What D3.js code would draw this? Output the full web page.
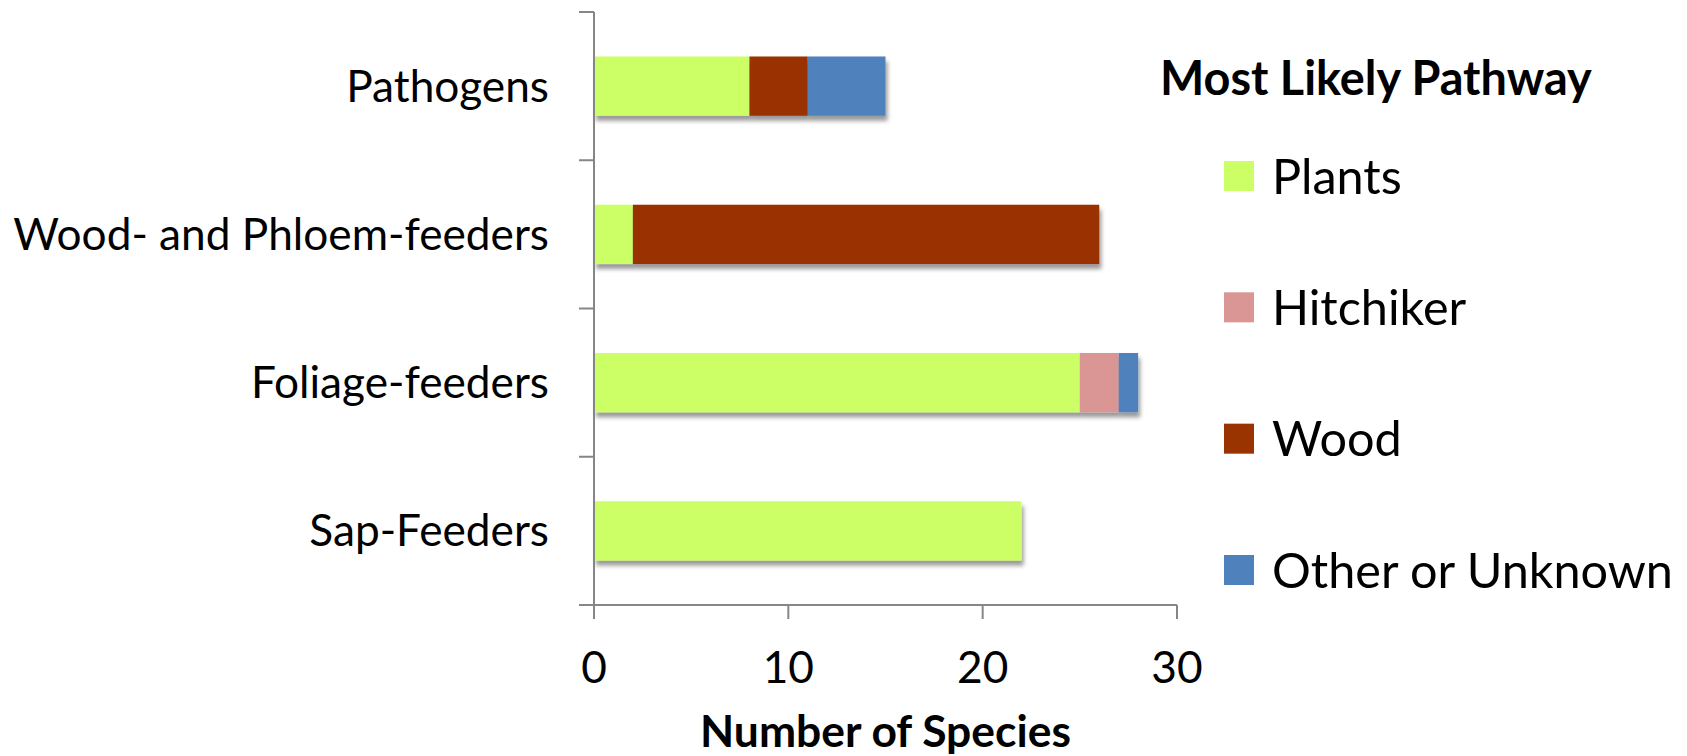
<!DOCTYPE html>
<html>
<head>
<meta charset="utf-8">
<script src="https://cdn.jsdelivr.net/npm/d3@7"></script>
<style>
  html, body { margin: 0; padding: 0; background: #fff; }
  svg { display: block; font-family: Lato, "Open Sans", sans-serif; }
</style>
</head>
<body>
<svg id="chart" width="1687" height="756"></svg>
<script>
// Species groups (top to bottom) and pathway breakdown
const categories = ["Pathogens", "Wood- and Phloem-feeders", "Foliage-feeders", "Sap-Feeders"];
const pathways = ["Plants", "Hitchiker", "Wood", "Other or Unknown"];
const plants = [8, 2, 25, 22];
const hitchiker = [0, 0, 2, 0];
const wood = [3, 24, 0, 0];
const otherUnknown = [4, 0, 1, 0];
const xTicks = [0, 10, 20, 30];
const pathwayColors = ["#CCFF66", "#D99694", "#993300", "#4F81BD"];

const seriesValues = [plants, hitchiker, wood, otherUnknown];
const rows = categories.map((c, i) => {
  const r = { category: c };
  pathways.forEach((p, j) => { r[p] = seriesValues[j][i]; });
  return r;
});

const svg = d3.select("#chart");
const plot = { left: 594, right: 1177, top: 12, bottom: 605 };
const axisColor = "#868686";

const x = d3.scaleLinear().domain([0, 30]).range([plot.left, plot.right]);
const y = d3.scaleBand().domain(categories).range([plot.top, plot.bottom])
  .paddingInner(0.6).paddingOuter(0.3);
const color = d3.scaleOrdinal().domain(pathways).range(pathwayColors);

// soft drop shadow under each bar
const defs = svg.append("defs");
const f = defs.append("filter").attr("id", "barShadow")
  .attr("x", "-5%").attr("y", "-20%").attr("width", "115%").attr("height", "160%");
f.append("feDropShadow").attr("dx", 2).attr("dy", 5).attr("stdDeviation", 2)
  .attr("flood-color", "#000").attr("flood-opacity", 0.4);

// scale font-size so a text selection's widest item spans the given width
function fitWidth(sel, target) {
  sel.attr("font-size", 100);
  let w = 0;
  sel.each(function () { w = Math.max(w, this.getComputedTextLength()); });
  const size = 100 * target / w;
  sel.attr("font-size", size);
  return size;
}

// stacked bars
const stacked = d3.stack().keys(pathways)(rows);
const barGroups = svg.append("g").selectAll("g.bar")
  .data(categories).join("g").attr("class", "bar")
  .attr("filter", "url(#barShadow)");
barGroups.each(function (cat, i) {
  const g = d3.select(this);
  stacked.forEach(layer => {
    const d = layer[i];
    if (d[1] - d[0] <= 0) return;
    g.append("rect")
      .attr("x", x(d[0]))
      .attr("y", y(cat))
      .attr("width", x(d[1]) - x(d[0]))
      .attr("height", y.bandwidth())
      .attr("fill", color(layer.key));
  });
});

// y axis: line with ticks on category boundaries
const yAxis = svg.append("g");
yAxis.append("line")
  .attr("x1", plot.left).attr("x2", plot.left)
  .attr("y1", plot.top).attr("y2", plot.bottom)
  .attr("stroke", axisColor).attr("stroke-width", 2);
const yTickPos = d3.range(categories.length + 1)
  .map(i => plot.top + i * (plot.bottom - plot.top) / categories.length);
yAxis.selectAll("line.tick").data(yTickPos).join("line").attr("class", "tick")
  .attr("x1", plot.left - 15).attr("x2", plot.left)
  .attr("y1", d => d).attr("y2", d => d)
  .attr("stroke", axisColor).attr("stroke-width", 2);

const catLabels = yAxis.selectAll("text").data(categories).join("text")
  .attr("x", 549)
  .attr("y", d => y(d) + y.bandwidth() / 2)
  .attr("dy", "0.35em")
  .attr("text-anchor", "end")
  .attr("fill", "#000")
  .text(d => d);
const labelSize = fitWidth(catLabels, 536);

// x axis
const xAxis = svg.append("g");
xAxis.append("line")
  .attr("x1", plot.left - 15).attr("x2", plot.right)
  .attr("y1", plot.bottom).attr("y2", plot.bottom)
  .attr("stroke", axisColor).attr("stroke-width", 2);
xAxis.selectAll("line.tick").data(xTicks).join("line").attr("class", "tick")
  .attr("x1", d => x(d)).attr("x2", d => x(d))
  .attr("y1", plot.bottom).attr("y2", plot.bottom + 14)
  .attr("stroke", axisColor).attr("stroke-width", 2);
xAxis.selectAll("text").data(xTicks).join("text")
  .attr("x", d => x(d))
  .attr("y", 683)
  .attr("text-anchor", "middle")
  .attr("fill", "#000")
  .attr("font-size", labelSize)
  .text(d => d);

const xTitle = svg.append("text")
  .attr("x", (plot.left + plot.right) / 2)
  .attr("y", 747)
  .attr("text-anchor", "middle")
  .attr("font-weight", "bold")
  .attr("fill", "#000")
  .text("Number of Species");
fitWidth(xTitle, 371);

// legend
const legend = svg.append("g");
const legTitle = legend.append("text")
  .attr("x", 1160).attr("y", 95)
  .attr("font-weight", "bold").attr("fill", "#000")
  .text("Most Likely Pathway");
fitWidth(legTitle, 432);

const legendY = d3.scalePoint().domain(pathways).range([176, 570]);
const items = legend.selectAll("g.item").data(pathways).join("g").attr("class", "item")
  .attr("transform", d => `translate(1224,${legendY(d)})`);
items.append("rect")
  .attr("x", 0).attr("y", -15).attr("width", 30).attr("height", 30)
  .attr("fill", d => color(d));
const itemLabels = items.append("text")
  .attr("x", 48).attr("y", 0).attr("dy", "0.36em")
  .attr("fill", "#000")
  .text(d => d);
fitWidth(itemLabels, 401);
</script>
</body>
</html>
